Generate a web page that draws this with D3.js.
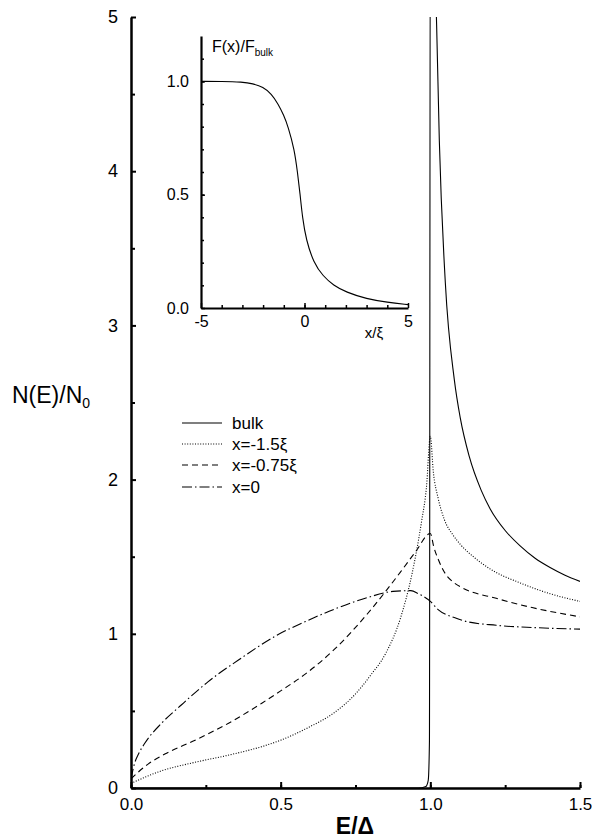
<!DOCTYPE html>
<html>
<head>
<meta charset="utf-8">
<script src="https://cdn.jsdelivr.net/npm/d3@7"></script>
<style>
  body { margin: 0; background: #fff; }
  svg { font-family: "Liberation Sans", Arial, Helvetica, sans-serif; }
  .axis path, .axis line { stroke: #000; }
  .axis text { fill: #000; }
</style>
</head>
<body>
<svg id="chart" width="592" height="840"></svg>
<script>
// main panel: density of states vs E/Delta
var bulkE = [0, 0.96, 0.985, 0.993, 0.997, 1.0, 1.021, 1.03, 1.05, 1.08, 1.1, 1.13, 1.17, 1.2, 1.25, 1.3, 1.35, 1.4, 1.45, 1.5];
var bulkN = [0, 0, 0.01, 0.05, 0.3, 6, 4.95, 4.2, 3.28, 2.65, 2.4, 2.15, 1.93, 1.81, 1.67, 1.57, 1.49, 1.43, 1.38, 1.34];

var m15E = [0, 0.1, 0.21, 0.33, 0.44, 0.5, 0.59, 0.68, 0.75, 0.8, 0.85, 0.9, 0.94, 0.97, 0.987, 1.0, 1.01, 1.026, 1.047, 1.076, 1.1, 1.15, 1.2, 1.3, 1.4, 1.5];
var m15N = [0.03, 0.11, 0.165, 0.215, 0.27, 0.31, 0.39, 0.49, 0.61, 0.73, 0.87, 1.1, 1.4, 1.72, 1.95, 2.28, 2.05, 1.88, 1.74, 1.64, 1.58, 1.49, 1.42, 1.33, 1.26, 1.21];

var m075E = [0, 0.057, 0.113, 0.214, 0.326, 0.437, 0.5, 0.583, 0.68, 0.79, 0.9, 0.95, 1.0, 1.012, 1.027, 1.05, 1.08, 1.11, 1.22, 1.34, 1.5];
var m075N = [0.06, 0.155, 0.22, 0.31, 0.42, 0.55, 0.63, 0.74, 0.9, 1.13, 1.4, 1.53, 1.65, 1.56, 1.48, 1.39, 1.33, 1.295, 1.23, 1.17, 1.11];

var x0E = [0, 0.012, 0.025, 0.046, 0.102, 0.169, 0.258, 0.359, 0.482, 0.583, 0.68, 0.79, 0.875, 0.935, 0.96, 1.0, 1.027, 1.08, 1.11, 1.22, 1.35, 1.5];
var x0N = [0.06, 0.16, 0.22, 0.29, 0.42, 0.54, 0.69, 0.83, 0.985, 1.08, 1.16, 1.235, 1.275, 1.28, 1.26, 1.21, 1.155, 1.105, 1.085, 1.055, 1.04, 1.03];

// inset: F(x)/F_bulk vs x/xi
var insetX = [-5, -4, -3, -2.5, -2, -1.6, -1.27, -1.0, -0.79, -0.49, -0.34, -0.21, -0.1, 0.08, 0.44, 0.9, 1.4, 2, 3, 4, 5];
var insetF = [1, 1, 0.997, 0.99, 0.975, 0.945, 0.9, 0.85, 0.8, 0.7, 0.6, 0.5, 0.4, 0.3, 0.2, 0.14, 0.1, 0.07, 0.04, 0.025, 0.015];

var legendLabels = ['bulk', 'x=-1.5\u03be', 'x=-0.75\u03be', 'x=0'];
var xTicks = [0, 0.5, 1.0, 1.5];
var yTicks = [0, 1, 2, 3, 4, 5];
var insetXTicks = [-5, 0, 5];
var insetYTicks = [0, 0.5, 1.0];

var dashes = [null, '1 1.6', '6 4', '10 3 1.5 3'];

var svg = d3.select('#chart');

var x = d3.scaleLinear().domain([0, 1.5]).range([131, 580]);
var y = d3.scaleLinear().domain([0, 5]).range([788, 17]);

function zip(a, b) {
    return a.map(function (d, i) { return [d, b[i]]; });
}

var series = [zip(bulkE, bulkN), zip(m15E, m15N), zip(m075E, m075N), zip(x0E, x0N)];

svg.append('clipPath').attr('id', 'plotclip')
    .append('rect')
    .attr('x', x(0)).attr('y', y(5))
    .attr('width', x(1.5) - x(0)).attr('height', y(0) - y(5));

var line = d3.line()
    .x(function (d) { return x(d[0]); })
    .y(function (d) { return y(d[1]); })
    .curve(d3.curveMonotoneX);

svg.append('g').attr('clip-path', 'url(#plotclip)')
    .selectAll('path')
    .data(series)
    .enter()
    .append('path')
    .attr('d', line)
    .attr('fill', 'none')
    .attr('stroke', '#000')
    .attr('stroke-width', 1.1)
    .attr('stroke-dasharray', function (d, i) { return dashes[i]; });

// main axes: minor ticks first, then labelled ones
svg.append('g').attr('class', 'axis')
    .attr('transform', 'translate(0,' + y(0) + ')')
    .call(d3.axisBottom(x).tickValues(d3.range(0, 1.51, 0.25)).tickFormat('').tickSize(-3).tickSizeOuter(0))
    .call(function (g) { g.select('.domain').remove(); })
    .selectAll('line').attr('stroke-width', 2);

svg.append('g').attr('class', 'axis')
    .attr('transform', 'translate(0,' + y(0) + ')')
    .call(d3.axisBottom(x).tickValues(xTicks).tickFormat(d3.format('.1f')).tickSize(-6).tickSizeOuter(0).tickPadding(9))
    .call(function (g) {
        g.select('.domain').attr('stroke-width', 2.5);
        g.selectAll('line').attr('stroke-width', 2);
        g.selectAll('text').attr('font-size', 17).attr('dy', '0.75em');
    });

svg.append('g').attr('class', 'axis')
    .attr('transform', 'translate(' + x(0) + ',0)')
    .call(d3.axisLeft(y).tickValues(d3.range(0.5, 5, 1)).tickFormat('').tickSize(-4).tickSizeOuter(0))
    .call(function (g) { g.select('.domain').remove(); })
    .selectAll('line').attr('stroke-width', 2);

svg.append('g').attr('class', 'axis')
    .attr('transform', 'translate(' + x(0) + ',0)')
    .call(d3.axisLeft(y).tickValues(yTicks).tickFormat(d3.format('d')).tickSize(-5).tickSizeOuter(0).tickPadding(13))
    .call(function (g) {
        g.select('.domain').attr('stroke-width', 2.5);
        g.selectAll('line').attr('stroke-width', 2);
        g.selectAll('text').attr('font-size', 18);
    });

// axis titles
var ylab = svg.append('text')
    .attr('x', 12).attr('y', 403)
    .attr('font-size', 23);
ylab.append('tspan').text('N(E)/N');
ylab.append('tspan').attr('font-size', 14).attr('dy', 5).text('0');

svg.append('text')
    .attr('x', 355).attr('y', 834)
    .attr('text-anchor', 'middle')
    .attr('font-size', 23).attr('font-weight', 'bold')
    .text('E/\u0394');

// legend
var legendY = [423, 444, 465, 487];
var legend = svg.append('g')
    .selectAll('g')
    .data(legendLabels)
    .enter()
    .append('g')
    .attr('transform', function (d, i) { return 'translate(182,' + legendY[i] + ')'; });

legend.append('line')
    .attr('x1', 0).attr('x2', 40)
    .attr('stroke', '#000').attr('stroke-width', 1.1)
    .attr('stroke-dasharray', function (d, i) { return dashes[i]; });

legend.append('text')
    .attr('x', 50).attr('dy', '0.35em')
    .attr('font-size', 17)
    .text(function (d) { return d; });

// inset
var ix = d3.scaleLinear().domain([-5, 5]).range([201, 408]);
var iy = d3.scaleLinear().domain([0, 1.2]).range([308, 36]);

var insetLine = d3.line()
    .x(function (d) { return ix(d[0]); })
    .y(function (d) { return iy(d[1]); })
    .curve(d3.curveBasis);

svg.append('path')
    .datum(zip(insetX, insetF))
    .attr('d', insetLine)
    .attr('fill', 'none')
    .attr('stroke', '#000')
    .attr('stroke-width', 1.1);

svg.append('g').attr('class', 'axis')
    .attr('transform', 'translate(0,' + iy(0) + ')')
    .call(d3.axisBottom(ix).tickValues(d3.range(-4, 5, 1)).tickFormat('').tickSize(-3).tickSizeOuter(0))
    .call(function (g) { g.select('.domain').remove(); })
    .selectAll('line').attr('stroke-width', 1.5);

svg.append('g').attr('class', 'axis')
    .attr('transform', 'translate(0,' + iy(0) + ')')
    .call(d3.axisBottom(ix).tickValues(insetXTicks).tickFormat(function (d) { return String(d); }).tickSize(-5).tickSizeOuter(0).tickPadding(7))
    .call(function (g) {
        g.select('.domain').attr('stroke-width', 2.2);
        g.selectAll('line').attr('stroke-width', 1.5);
        g.selectAll('text').attr('font-size', 16).attr('dy', '0.75em');
    });

svg.append('g').attr('class', 'axis')
    .attr('transform', 'translate(' + ix(-5) + ',0)')
    .call(d3.axisLeft(iy).tickValues(d3.range(0.1, 1.15, 0.1)).tickFormat('').tickSize(-3).tickSizeOuter(0))
    .call(function (g) { g.select('.domain').remove(); })
    .selectAll('line').attr('stroke-width', 1.5);

svg.append('g').attr('class', 'axis')
    .attr('transform', 'translate(' + ix(-5) + ',0)')
    .call(d3.axisLeft(iy).tickValues(insetYTicks).tickFormat(d3.format('.1f')).tickSize(-4).tickSizeOuter(0).tickPadding(12))
    .call(function (g) {
        g.select('.domain').attr('stroke-width', 2.2);
        g.selectAll('line').attr('stroke-width', 1.5);
        g.selectAll('text').attr('font-size', 16);
    });

var ftitle = svg.append('text')
    .attr('x', 212).attr('y', 52)
    .attr('font-size', 16);
ftitle.append('tspan').text('F(x)/F');
ftitle.append('tspan').attr('font-size', 10).attr('dy', 4).text('bulk');

svg.append('text')
    .attr('x', 374).attr('y', 338)
    .attr('text-anchor', 'middle')
    .attr('font-size', 15)
    .text('x/\u03be');
</script>
</body>
</html>
